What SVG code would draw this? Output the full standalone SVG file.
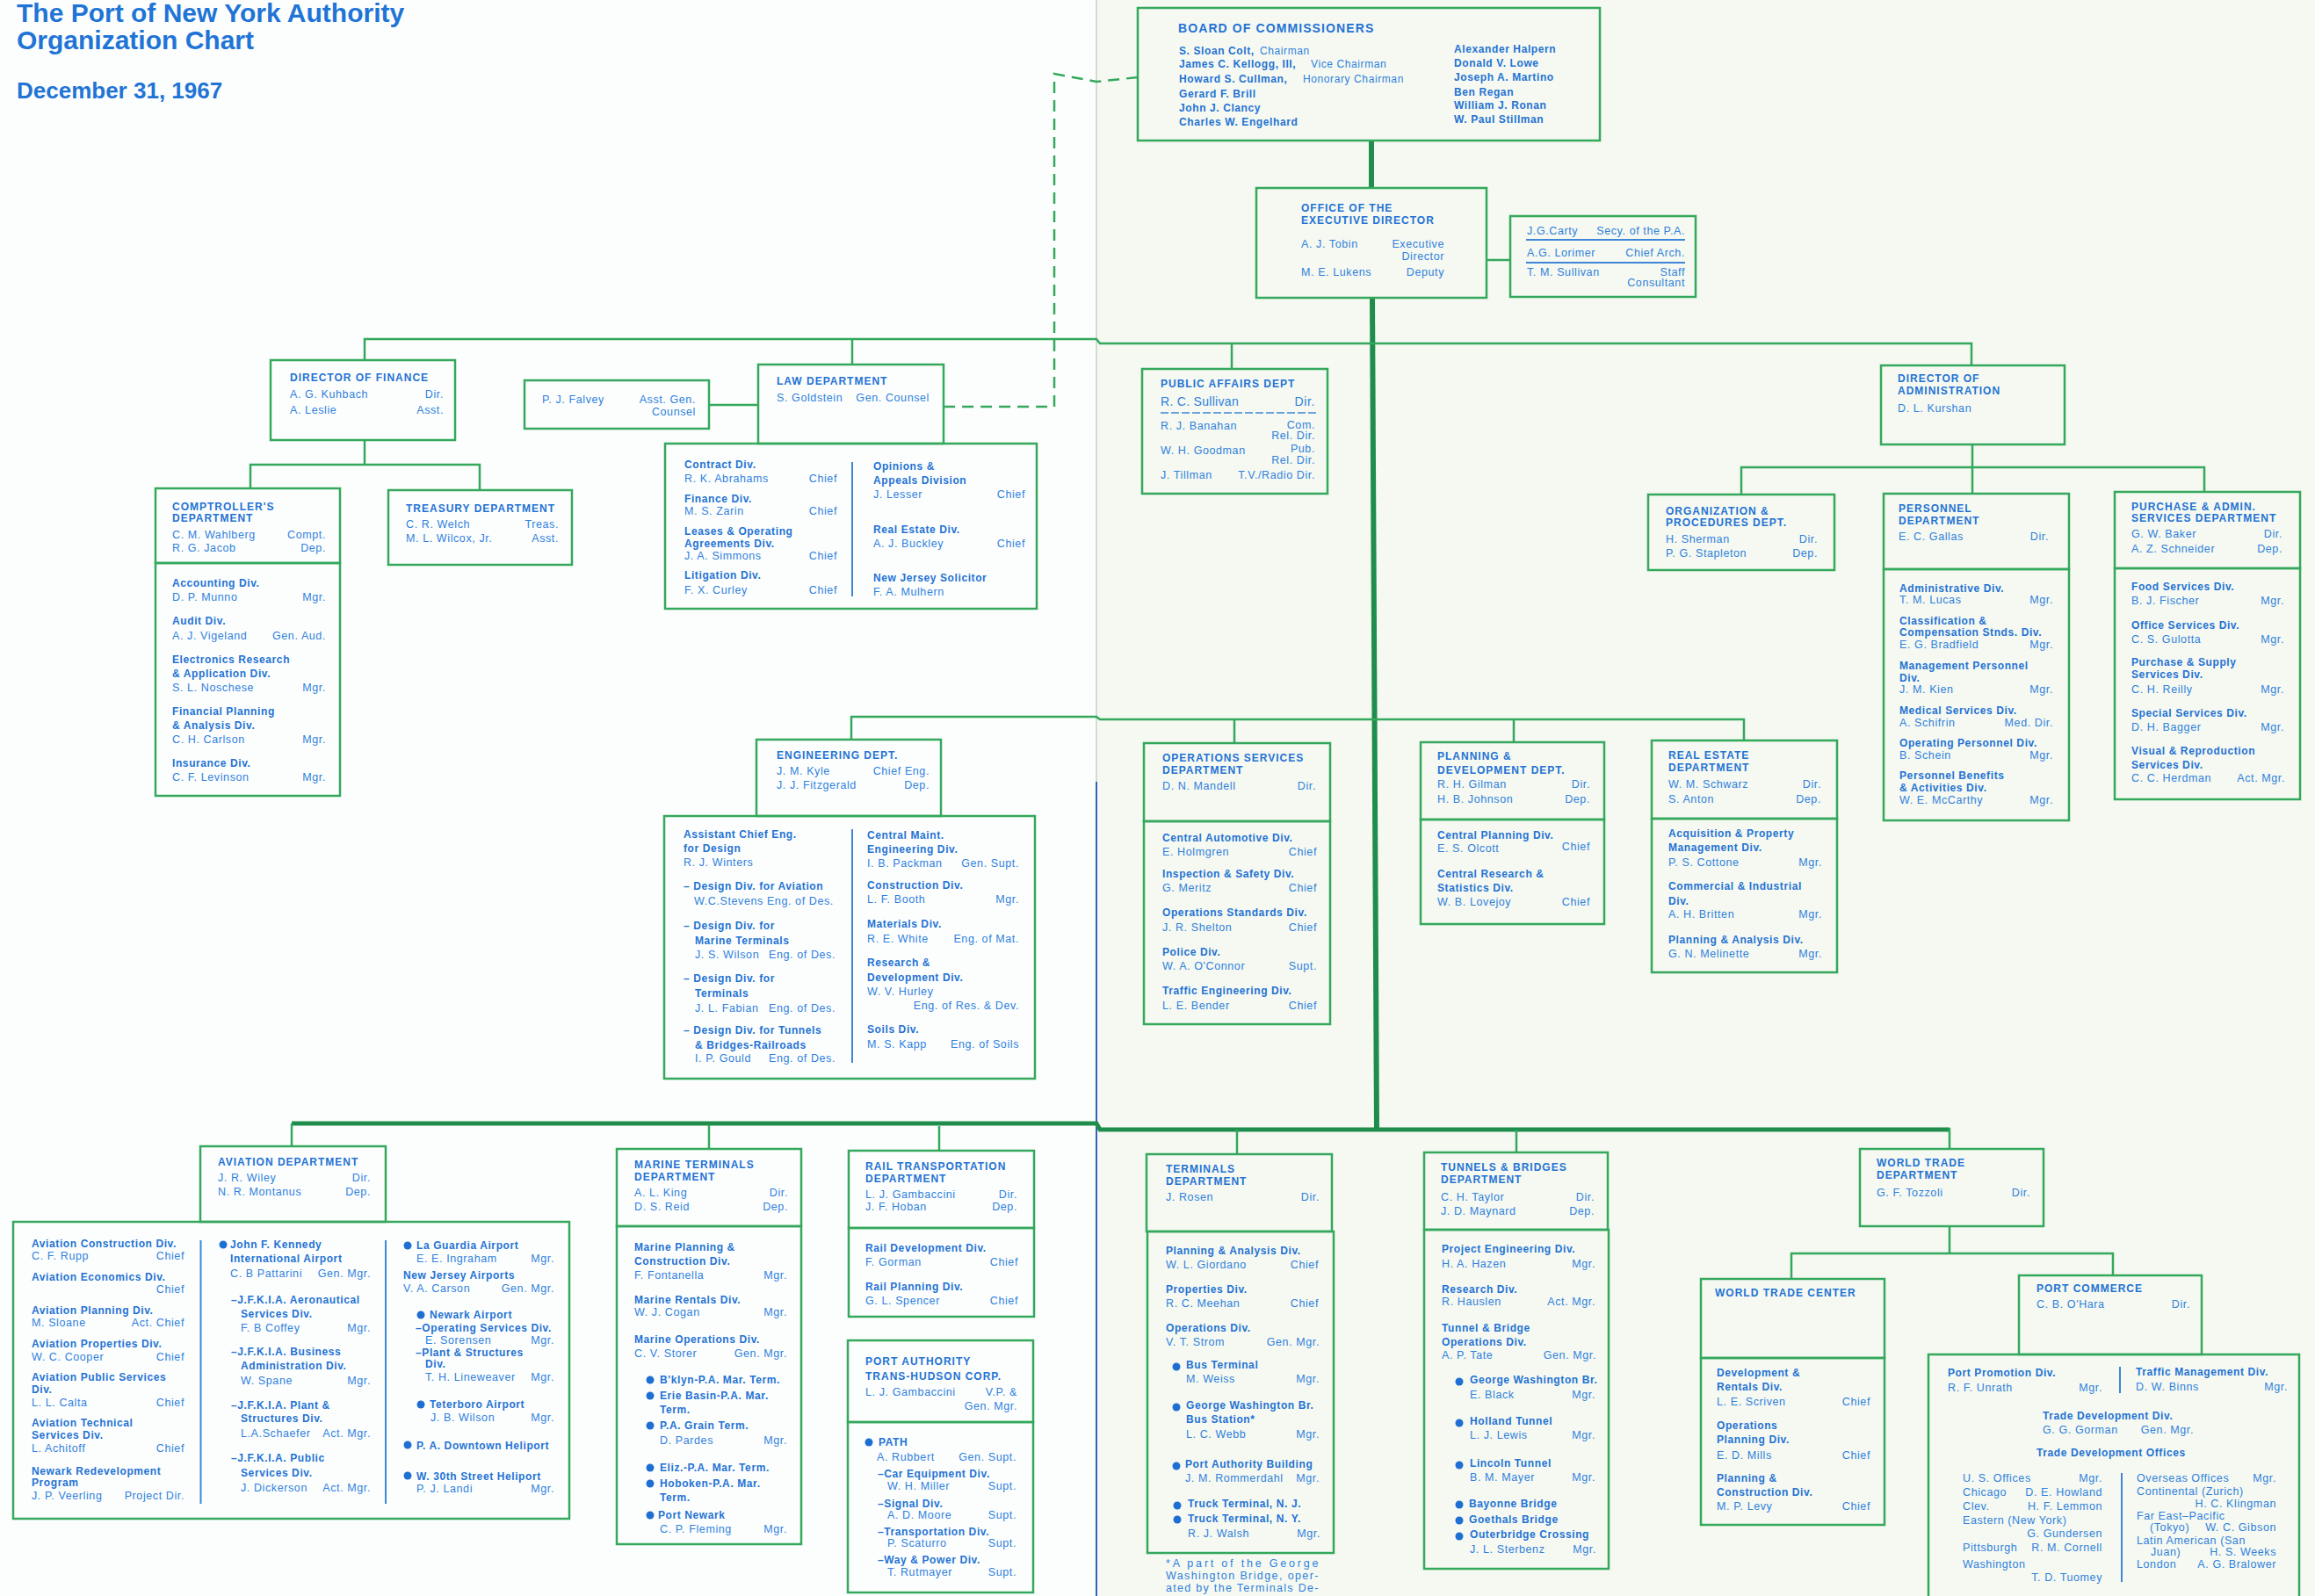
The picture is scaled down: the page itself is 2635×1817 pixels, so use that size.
<svg xmlns="http://www.w3.org/2000/svg" width="2635" height="1817" viewBox="0 0 2635 1817">
<style>
text{font-family:"Liberation Sans",Arial,sans-serif;fill:#2f80dd}
.t{font-size:30px;font-weight:bold;fill:#1f74d6}
.d{font-size:26px;font-weight:bold;fill:#1f74d6}
.hb{font-size:14px;font-weight:bold;letter-spacing:1.1px;fill:#2472d4}
.h{font-size:12px;font-weight:bold;letter-spacing:1px;fill:#2472d4}
.b{font-size:12px;font-weight:bold;letter-spacing:0.6px;fill:#2472d4}
.n{font-size:12.5px;letter-spacing:0.6px}
.nt{font-weight:normal;fill:#2f80dd}
.r{text-anchor:end}
.bx{fill:none;stroke:#34a85c;stroke-width:2.5}
.c{fill:none;stroke:#34a85c;stroke-width:2.5}
.tk{fill:none;stroke:#1f8d4b;stroke-width:6}
.tb{fill:none;stroke:#1f8d4b;stroke-width:5}
.ds{fill:none;stroke:#34a85c;stroke-width:2.5;stroke-dasharray:13 8}
.dv{stroke:#3f86d8;stroke-width:2}
.bl{fill:#1f6fd3}
</style>
<rect x="0" y="0" width="1248" height="1817" fill="#fcfefd"/>
<rect x="1248" y="0" width="1387" height="1817" fill="#f5f9f1"/>
<line x1="1248" y1="0" x2="1248" y2="890" stroke="#d6dad2" stroke-width="2"/>
<line x1="1248" y1="890" x2="1248" y2="1817" stroke="#2f64b8" stroke-width="2"/>

<g id="title">
<text class="t" x="19" y="25">The Port of New York Authority</text>
<text class="t" x="19" y="56">Organization Chart</text>
<text class="d" x="19" y="112">December 31, 1967</text>
</g>

<g id="connectors">
<path class="tk" d="M1561,160 V214"/>
<path class="tk" d="M1562,339 L1567,1286"/>
<path class="ds" d="M1295,88 L1248,93 L1200,84 V463 H1074"/>
<path class="c" d="M415,410 V386 H1248 L1252,391 H2244 V416"/>
<path class="c" d="M970,386 V415"/>
<path class="c" d="M1402,391 V420"/>
<path class="c" d="M807,461 H863"/>
<path class="c" d="M1692,296 H1719"/>
<path class="c" d="M415,501 V529"/>
<path class="c" d="M285,556 V529 H546 V558"/>
<path class="c" d="M2245,506 V532"/>
<path class="c" d="M1982,563 V532 H2509 V560"/>
<path class="c" d="M2245,532 V562"/>
<path class="c" d="M969,842 V816 H1248 L1252,819 H1985 V843"/>
<path class="c" d="M1405,819 V846"/>
<path class="c" d="M1723,819 V845"/>
<path class="tb" d="M332,1279 H1248 L1252,1286 H2219"/>
<path class="c" d="M332,1279 V1305"/>
<path class="c" d="M807,1281 V1308"/>
<path class="c" d="M1069,1282 V1310"/>
<path class="c" d="M1408,1286 V1314"/>
<path class="c" d="M1726,1286 V1312"/>
<path class="c" d="M2219,1284 V1308"/>
<path class="c" d="M2219,1396 V1427"/>
<path class="c" d="M2039,1456 V1427 H2405 V1452"/>
</g>

<g id="board">
<rect class="bx" x="1295" y="9" width="526" height="151"/>
<text class="hb" x="1341" y="37">BOARD OF COMMISSIONERS</text>
<text class="b" x="1342" y="62">S. Sloan Colt, <tspan class="nt" x="1434">Chairman</tspan></text>
<text class="b" x="1342" y="77">James C. Kellogg, III, <tspan class="nt" x="1492">Vice Chairman</tspan></text>
<text class="b" x="1342" y="94">Howard S. Cullman, <tspan class="nt" x="1483">Honorary Chairman</tspan></text>
<text class="b" x="1342" y="111">Gerard F. Brill</text>
<text class="b" x="1342" y="127">John J. Clancy</text>
<text class="b" x="1342" y="143">Charles W. Engelhard</text>
<text class="b" x="1655" y="60">Alexander Halpern</text>
<text class="b" x="1655" y="76">Donald V. Lowe</text>
<text class="b" x="1655" y="92">Joseph A. Martino</text>
<text class="b" x="1655" y="109">Ben Regan</text>
<text class="b" x="1655" y="124">William J. Ronan</text>
<text class="b" x="1655" y="140">W. Paul Stillman</text>
</g>

<g id="exec">
<rect class="bx" x="1430" y="214" width="262" height="125"/>
<text class="h" x="1481" y="241">OFFICE OF THE</text>
<text class="h" x="1481" y="255">EXECUTIVE DIRECTOR</text>
<text class="n" x="1481" y="282">A. J. Tobin</text>
<text class="n r" x="1644" y="282">Executive</text>
<text class="n r" x="1644" y="296">Director</text>
<text class="n" x="1481" y="314">M. E. Lukens</text>
<text class="n r" x="1644" y="314">Deputy</text>
</g>

<g id="staff">
<rect class="bx" x="1719" y="246" width="211" height="92"/>
<text class="n" x="1738" y="267">J.G.Carty</text>
<text class="n r" x="1918" y="267">Secy. of the P.A.</text>
<line class="dv" x1="1737" y1="273" x2="1918" y2="273"/>
<text class="n" x="1738" y="292">A.G. Lorimer</text>
<text class="n r" x="1918" y="292">Chief Arch.</text>
<line class="dv" x1="1737" y1="299" x2="1918" y2="299"/>
<text class="n" x="1738" y="314">T. M. Sullivan</text>
<text class="n r" x="1918" y="314">Staff</text>
<text class="n r" x="1918" y="326">Consultant</text>
</g>

<g id="finance">
<rect class="bx" x="308" y="410" width="210" height="91"/>
<text class="h" x="330" y="434">DIRECTOR OF FINANCE</text>
<text class="n" x="330" y="453">A. G. Kuhbach</text>
<text class="n r" x="505" y="453">Dir.</text>
<text class="n" x="330" y="471">A. Leslie</text>
<text class="n r" x="505" y="471">Asst.</text>
</g>

<g id="falvey">
<rect class="bx" x="597" y="433" width="210" height="55"/>
<text class="n" x="617" y="459">P. J. Falvey</text>
<text class="n r" x="792" y="459">Asst. Gen.</text>
<text class="n r" x="792" y="473">Counsel</text>
</g>

<g id="law">
<rect class="bx" x="863" y="415" width="211" height="90"/>
<rect class="bx" x="757" y="505" width="423" height="188"/>
<line class="dv" x1="970" y1="526" x2="970" y2="679"/>
<text class="h" x="884" y="438">LAW DEPARTMENT</text>
<text class="n" x="884" y="457">S. Goldstein</text>
<text class="n r" x="1058" y="457">Gen. Counsel</text>
<text class="b" x="779" y="533">Contract Div.</text>
<text class="n" x="779" y="549">R. K. Abrahams</text>
<text class="n r" x="953" y="549">Chief</text>
<text class="b" x="779" y="572">Finance Div.</text>
<text class="n" x="779" y="586">M. S. Zarin</text>
<text class="n r" x="953" y="586">Chief</text>
<text class="b" x="779" y="609">Leases &amp; Operating</text>
<text class="b" x="779" y="623">Agreements Div.</text>
<text class="n" x="779" y="637">J. A. Simmons</text>
<text class="n r" x="953" y="637">Chief</text>
<text class="b" x="779" y="659">Litigation Div.</text>
<text class="n" x="779" y="676">F. X. Curley</text>
<text class="n r" x="953" y="676">Chief</text>
<text class="b" x="994" y="535">Opinions &amp;</text>
<text class="b" x="994" y="551">Appeals Division</text>
<text class="n" x="994" y="567">J. Lesser</text>
<text class="n r" x="1167" y="567">Chief</text>
<text class="b" x="994" y="607">Real Estate Div.</text>
<text class="n" x="994" y="623">A. J. Buckley</text>
<text class="n r" x="1167" y="623">Chief</text>
<text class="b" x="994" y="662">New Jersey Solicitor</text>
<text class="n" x="994" y="678">F. A. Mulhern</text>
</g>

<g id="public-affairs">
<rect class="bx" x="1300" y="420" width="211" height="142"/>
<text class="h" x="1321" y="441">PUBLIC AFFAIRS DEPT</text>
<text class="n" x="1321" y="462" style="font-size:14px;letter-spacing:0.3px">R. C. Sullivan</text>
<text class="n r" x="1497" y="462" style="font-size:14px">Dir.</text>
<line x1="1321" y1="470" x2="1499" y2="470" stroke="#3f86d8" stroke-width="1.5" stroke-dasharray="9 3"/>
<text class="n" x="1321" y="489">R. J. Banahan</text>
<text class="n r" x="1497" y="488">Com.</text>
<text class="n r" x="1497" y="500">Rel. Dir.</text>
<text class="n" x="1321" y="517">W. H. Goodman</text>
<text class="n r" x="1497" y="515">Pub.</text>
<text class="n r" x="1497" y="528">Rel. Dir.</text>
<text class="n" x="1321" y="545">J. Tillman</text>
<text class="n r" x="1497" y="545">T.V./Radio Dir.</text>
</g>

<g id="administration">
<rect class="bx" x="2141" y="416" width="209" height="90"/>
<text class="h" x="2160" y="435">DIRECTOR OF</text>
<text class="h" x="2160" y="449">ADMINISTRATION</text>
<text class="n" x="2160" y="469">D. L. Kurshan</text>
</g>

<g id="comptroller">
<rect class="bx" x="177" y="556" width="210" height="85"/>
<rect class="bx" x="177" y="641" width="210" height="265"/>
<text class="h" x="196" y="581">COMPTROLLER'S</text>
<text class="h" x="196" y="594">DEPARTMENT</text>
<text class="n" x="196" y="613">C. M. Wahlberg</text>
<text class="n r" x="371" y="613">Compt.</text>
<text class="n" x="196" y="628">R. G. Jacob</text>
<text class="n r" x="371" y="628">Dep.</text>
<text class="b" x="196" y="668">Accounting Div.</text>
<text class="n" x="196" y="684">D. P. Munno</text>
<text class="n r" x="371" y="684">Mgr.</text>
<text class="b" x="196" y="711">Audit Div.</text>
<text class="n" x="196" y="728">A. J. Vigeland</text>
<text class="n r" x="371" y="728">Gen. Aud.</text>
<text class="b" x="196" y="755">Electronics Research</text>
<text class="b" x="196" y="771">&amp; Application Div.</text>
<text class="n" x="196" y="787">S. L. Noschese</text>
<text class="n r" x="371" y="787">Mgr.</text>
<text class="b" x="196" y="814">Financial Planning</text>
<text class="b" x="196" y="830">&amp; Analysis Div.</text>
<text class="n" x="196" y="846">C. H. Carlson</text>
<text class="n r" x="371" y="846">Mgr.</text>
<text class="b" x="196" y="873">Insurance Div.</text>
<text class="n" x="196" y="889">C. F. Levinson</text>
<text class="n r" x="371" y="889">Mgr.</text>
</g>

<g id="treasury">
<rect class="bx" x="442" y="558" width="209" height="85"/>
<text class="h" x="462" y="583">TREASURY DEPARTMENT</text>
<text class="n" x="462" y="601">C. R. Welch</text>
<text class="n r" x="636" y="601">Treas.</text>
<text class="n" x="462" y="617">M. L. Wilcox, Jr.</text>
<text class="n r" x="636" y="617">Asst.</text>
</g>

<g id="org-procedures">
<rect class="bx" x="1876" y="563" width="212" height="86"/>
<text class="h" x="1896" y="586">ORGANIZATION &amp;</text>
<text class="h" x="1896" y="599">PROCEDURES DEPT.</text>
<text class="n" x="1896" y="618">H. Sherman</text>
<text class="n r" x="2069" y="618">Dir.</text>
<text class="n" x="1896" y="634">P. G. Stapleton</text>
<text class="n r" x="2069" y="634">Dep.</text>
</g>

<g id="personnel">
<rect class="bx" x="2144" y="562" width="211" height="86"/>
<rect class="bx" x="2144" y="648" width="211" height="286"/>
<text class="h" x="2161" y="583">PERSONNEL</text>
<text class="h" x="2161" y="597">DEPARTMENT</text>
<text class="n" x="2161" y="615">E. C. Gallas</text>
<text class="n r" x="2332" y="615">Dir.</text>
<text class="b" x="2162" y="674">Administrative Div.</text>
<text class="n" x="2162" y="687">T. M. Lucas</text>
<text class="n r" x="2337" y="687">Mgr.</text>
<text class="b" x="2162" y="711">Classification &amp;</text>
<text class="b" x="2162" y="724">Compensation Stnds. Div.</text>
<text class="n" x="2162" y="738">E. G. Bradfield</text>
<text class="n r" x="2337" y="738">Mgr.</text>
<text class="b" x="2162" y="762">Management Personnel</text>
<text class="b" x="2162" y="776">Div.</text>
<text class="n" x="2162" y="789">J. M. Kien</text>
<text class="n r" x="2337" y="789">Mgr.</text>
<text class="b" x="2162" y="813">Medical Services Div.</text>
<text class="n" x="2162" y="827">A. Schifrin</text>
<text class="n r" x="2337" y="827">Med. Dir.</text>
<text class="b" x="2162" y="850">Operating Personnel Div.</text>
<text class="n" x="2162" y="864">B. Schein</text>
<text class="n r" x="2337" y="864">Mgr.</text>
<text class="b" x="2162" y="887">Personnel Benefits</text>
<text class="b" x="2162" y="901">&amp; Activities Div.</text>
<text class="n" x="2162" y="915">W. E. McCarthy</text>
<text class="n r" x="2337" y="915">Mgr.</text>
</g>

<g id="purchase">
<rect class="bx" x="2407" y="560" width="211" height="87"/>
<rect class="bx" x="2407" y="647" width="211" height="263"/>
<text class="h" x="2426" y="581">PURCHASE &amp; ADMIN.</text>
<text class="h" x="2426" y="594">SERVICES DEPARTMENT</text>
<text class="n" x="2426" y="612">G. W. Baker</text>
<text class="n r" x="2598" y="612">Dir.</text>
<text class="n" x="2426" y="629">A. Z. Schneider</text>
<text class="n r" x="2598" y="629">Dep.</text>
<text class="b" x="2426" y="672">Food Services Div.</text>
<text class="n" x="2426" y="688">B. J. Fischer</text>
<text class="n r" x="2600" y="688">Mgr.</text>
<text class="b" x="2426" y="716">Office Services Div.</text>
<text class="n" x="2426" y="732">C. S. Gulotta</text>
<text class="n r" x="2600" y="732">Mgr.</text>
<text class="b" x="2426" y="758">Purchase &amp; Supply</text>
<text class="b" x="2426" y="772">Services Div.</text>
<text class="n" x="2426" y="789">C. H. Reilly</text>
<text class="n r" x="2600" y="789">Mgr.</text>
<text class="b" x="2426" y="816">Special Services Div.</text>
<text class="n" x="2426" y="832">D. H. Bagger</text>
<text class="n r" x="2600" y="832">Mgr.</text>
<text class="b" x="2426" y="859">Visual &amp; Reproduction</text>
<text class="b" x="2426" y="875">Services Div.</text>
<text class="n" x="2426" y="890">C. C. Herdman</text>
<text class="n r" x="2601" y="890">Act. Mgr.</text>
</g>

<g id="engineering">
<rect class="bx" x="861" y="842" width="210" height="87"/>
<rect class="bx" x="756" y="929" width="422" height="299"/>
<line class="dv" x1="970" y1="944" x2="970" y2="1210"/>
<text class="h" x="884" y="864">ENGINEERING DEPT.</text>
<text class="n" x="884" y="882">J. M. Kyle</text>
<text class="n r" x="1058" y="882">Chief Eng.</text>
<text class="n" x="884" y="898">J. J. Fitzgerald</text>
<text class="n r" x="1058" y="898">Dep.</text>
<text class="b" x="778" y="954">Assistant Chief Eng.</text>
<text class="b" x="778" y="970">for Design</text>
<text class="n" x="778" y="986">R. J. Winters</text>
<text class="b" x="778" y="1013">– Design Div. for Aviation</text>
<text class="n" x="790" y="1030">W.C.Stevens Eng. of Des.</text>
<text class="b" x="778" y="1058">– Design Div. for</text>
<text class="b" x="791" y="1075">Marine Terminals</text>
<text class="n" x="791" y="1091">J. S. Wilson</text>
<text class="n r" x="951" y="1091">Eng. of Des.</text>
<text class="b" x="778" y="1118">– Design Div. for</text>
<text class="b" x="791" y="1135">Terminals</text>
<text class="n" x="791" y="1152">J. L. Fabian</text>
<text class="n r" x="951" y="1152">Eng. of Des.</text>
<text class="b" x="778" y="1177">– Design Div. for Tunnels</text>
<text class="b" x="791" y="1194">&amp; Bridges-Railroads</text>
<text class="n" x="791" y="1209">I. P. Gould</text>
<text class="n r" x="951" y="1209">Eng. of Des.</text>
<text class="b" x="987" y="955">Central Maint.</text>
<text class="b" x="987" y="971">Engineering Div.</text>
<text class="n" x="987" y="987">I. B. Packman</text>
<text class="n r" x="1160" y="987">Gen. Supt.</text>
<text class="b" x="987" y="1012">Construction Div.</text>
<text class="n" x="987" y="1028">L. F. Booth</text>
<text class="n r" x="1160" y="1028">Mgr.</text>
<text class="b" x="987" y="1056">Materials Div.</text>
<text class="n" x="987" y="1073">R. E. White</text>
<text class="n r" x="1160" y="1073">Eng. of Mat.</text>
<text class="b" x="987" y="1100">Research &amp;</text>
<text class="b" x="987" y="1117">Development Div.</text>
<text class="n" x="987" y="1133">W. V. Hurley</text>
<text class="n r" x="1160" y="1149">Eng. of Res. &amp; Dev.</text>
<text class="b" x="987" y="1176">Soils Div.</text>
<text class="n" x="987" y="1193">M. S. Kapp</text>
<text class="n r" x="1160" y="1193">Eng. of Soils</text>
</g>

<g id="operations-services">
<rect class="bx" x="1302" y="846" width="212" height="89"/>
<rect class="bx" x="1302" y="935" width="212" height="231"/>
<text class="h" x="1323" y="867">OPERATIONS SERVICES</text>
<text class="h" x="1323" y="881">DEPARTMENT</text>
<text class="n" x="1323" y="899">D. N. Mandell</text>
<text class="n r" x="1498" y="899">Dir.</text>
<text class="b" x="1323" y="958">Central Automotive Div.</text>
<text class="n" x="1323" y="974">E. Holmgren</text>
<text class="n r" x="1499" y="974">Chief</text>
<text class="b" x="1323" y="999">Inspection &amp; Safety Div.</text>
<text class="n" x="1323" y="1015">G. Meritz</text>
<text class="n r" x="1499" y="1015">Chief</text>
<text class="b" x="1323" y="1043">Operations Standards Div.</text>
<text class="n" x="1323" y="1060">J. R. Shelton</text>
<text class="n r" x="1499" y="1060">Chief</text>
<text class="b" x="1323" y="1088">Police Div.</text>
<text class="n" x="1323" y="1104">W. A. O'Connor</text>
<text class="n r" x="1499" y="1104">Supt.</text>
<text class="b" x="1323" y="1132">Traffic Engineering Div.</text>
<text class="n" x="1323" y="1149">L. E. Bender</text>
<text class="n r" x="1499" y="1149">Chief</text>
</g>

<g id="planning-development">
<rect class="bx" x="1617" y="845" width="209" height="88"/>
<rect class="bx" x="1617" y="933" width="209" height="119"/>
<text class="h" x="1636" y="865">PLANNING &amp;</text>
<text class="h" x="1636" y="881">DEVELOPMENT DEPT.</text>
<text class="n" x="1636" y="897">R. H. Gilman</text>
<text class="n r" x="1810" y="897">Dir.</text>
<text class="n" x="1636" y="914">H. B. Johnson</text>
<text class="n r" x="1810" y="914">Dep.</text>
<text class="b" x="1636" y="955">Central Planning Div.</text>
<text class="n" x="1636" y="970">E. S. Olcott</text>
<text class="n r" x="1810" y="968">Chief</text>
<text class="b" x="1636" y="999">Central Research &amp;</text>
<text class="b" x="1636" y="1015">Statistics Div.</text>
<text class="n" x="1636" y="1031">W. B. Lovejoy</text>
<text class="n r" x="1810" y="1031">Chief</text>
</g>

<g id="real-estate">
<rect class="bx" x="1880" y="843" width="211" height="89"/>
<rect class="bx" x="1880" y="932" width="211" height="175"/>
<text class="h" x="1899" y="864">REAL ESTATE</text>
<text class="h" x="1899" y="878">DEPARTMENT</text>
<text class="n" x="1899" y="897">W. M. Schwarz</text>
<text class="n r" x="2073" y="897">Dir.</text>
<text class="n" x="1899" y="914">S. Anton</text>
<text class="n r" x="2073" y="914">Dep.</text>
<text class="b" x="1899" y="953">Acquisition &amp; Property</text>
<text class="b" x="1899" y="969">Management Div.</text>
<text class="n" x="1899" y="986">P. S. Cottone</text>
<text class="n r" x="2074" y="986">Mgr.</text>
<text class="b" x="1899" y="1013">Commercial &amp; Industrial</text>
<text class="b" x="1899" y="1030">Div.</text>
<text class="n" x="1899" y="1045">A. H. Britten</text>
<text class="n r" x="2074" y="1045">Mgr.</text>
<text class="b" x="1899" y="1074">Planning &amp; Analysis Div.</text>
<text class="n" x="1899" y="1090">G. N. Melinette</text>
<text class="n r" x="2074" y="1090">Mgr.</text>
</g>

<g id="aviation">
<rect class="bx" x="228" y="1305" width="211" height="86"/>
<rect class="bx" x="15" y="1391" width="633" height="338"/>
<line class="dv" x1="228.5" y1="1412" x2="228.5" y2="1712"/>
<line class="dv" x1="439" y1="1412" x2="439" y2="1712"/>
<text class="h" x="248" y="1327">AVIATION DEPARTMENT</text>
<text class="n" x="248" y="1345">J. R. Wiley</text>
<text class="n r" x="422" y="1345">Dir.</text>
<text class="n" x="248" y="1361">N. R. Montanus</text>
<text class="n r" x="422" y="1361">Dep.</text>
<text class="b" x="36" y="1420">Aviation Construction Div.</text>
<text class="n" x="36" y="1434">C. F. Rupp</text>
<text class="n r" x="210" y="1434">Chief</text>
<text class="b" x="36" y="1458">Aviation Economics Div.</text>
<text class="n r" x="210" y="1472">Chief</text>
<text class="b" x="36" y="1496">Aviation Planning Div.</text>
<text class="n" x="36" y="1510">M. Sloane</text>
<text class="n r" x="210" y="1510">Act. Chief</text>
<text class="b" x="36" y="1534">Aviation Properties Div.</text>
<text class="n" x="36" y="1549">W. C. Cooper</text>
<text class="n r" x="210" y="1549">Chief</text>
<text class="b" x="36" y="1572">Aviation Public Services</text>
<text class="b" x="36" y="1586">Div.</text>
<text class="n" x="36" y="1601">L. L. Calta</text>
<text class="n r" x="210" y="1601">Chief</text>
<text class="b" x="36" y="1624">Aviation Technical</text>
<text class="b" x="36" y="1638">Services Div.</text>
<text class="n" x="36" y="1653">L. Achitoff</text>
<text class="n r" x="210" y="1653">Chief</text>
<text class="b" x="36" y="1679">Newark Redevelopment</text>
<text class="b" x="36" y="1692">Program</text>
<text class="n" x="36" y="1707">J. P. Veerling</text>
<text class="n r" x="210" y="1707">Project Dir.</text>
<circle class="bl" cx="254" cy="1417" r="4.5"/>
<text class="b" x="262" y="1421">John F. Kennedy</text>
<text class="b" x="262" y="1437">International Airport</text>
<text class="n" x="262" y="1454">C. B Pattarini</text>
<text class="n r" x="422" y="1454">Gen. Mgr.</text>
<text class="b" x="263" y="1484">–J.F.K.I.A. Aeronautical</text>
<text class="b" x="274" y="1500">Services Div.</text>
<text class="n" x="274" y="1516">F. B Coffey</text>
<text class="n r" x="422" y="1516">Mgr.</text>
<text class="b" x="263" y="1543">–J.F.K.I.A. Business</text>
<text class="b" x="274" y="1559">Administration Div.</text>
<text class="n" x="274" y="1576">W. Spane</text>
<text class="n r" x="422" y="1576">Mgr.</text>
<text class="b" x="263" y="1604">–J.F.K.I.A. Plant &amp;</text>
<text class="b" x="274" y="1619">Structures Div.</text>
<text class="n" x="274" y="1636">L.A.Schaefer</text>
<text class="n r" x="422" y="1636">Act. Mgr.</text>
<text class="b" x="263" y="1664">–J.F.K.I.A. Public</text>
<text class="b" x="274" y="1681">Services Div.</text>
<text class="n" x="274" y="1698">J. Dickerson</text>
<text class="n r" x="422" y="1698">Act. Mgr.</text>
<circle class="bl" cx="464" cy="1418" r="4.5"/>
<text class="b" x="474" y="1422">La Guardia Airport</text>
<text class="n" x="474" y="1437">E. E. Ingraham</text>
<text class="n r" x="631" y="1437">Mgr.</text>
<text class="b" x="459" y="1456">New Jersey Airports</text>
<text class="n" x="459" y="1471">V. A. Carson</text>
<text class="n r" x="631" y="1471">Gen. Mgr.</text>
<circle class="bl" cx="479" cy="1497" r="4.5"/>
<text class="b" x="489" y="1501">Newark Airport</text>
<text class="b" x="473" y="1516">–Operating Services Div.</text>
<text class="n" x="484" y="1530">E. Sorensen</text>
<text class="n r" x="631" y="1530">Mgr.</text>
<text class="b" x="473" y="1544">–Plant &amp; Structures</text>
<text class="b" x="484" y="1557">Div.</text>
<text class="n" x="484" y="1572">T. H. Lineweaver</text>
<text class="n r" x="631" y="1572">Mgr.</text>
<circle class="bl" cx="479" cy="1599" r="4.5"/>
<text class="b" x="489" y="1603">Teterboro Airport</text>
<text class="n" x="490" y="1618">J. B. Wilson</text>
<text class="n r" x="631" y="1618">Mgr.</text>
<circle class="bl" cx="464" cy="1645" r="4.5"/>
<text class="b" x="474" y="1650">P. A. Downtown Heliport</text>
<circle class="bl" cx="464" cy="1680" r="4.5"/>
<text class="b" x="474" y="1685">W. 30th Street Heliport</text>
<text class="n" x="474" y="1699">P. J. Landi</text>
<text class="n r" x="631" y="1699">Mgr.</text>
</g>

<g id="marine">
<rect class="bx" x="702" y="1308" width="210" height="88"/>
<rect class="bx" x="702" y="1396" width="210" height="362"/>
<text class="h" x="722" y="1330">MARINE TERMINALS</text>
<text class="h" x="722" y="1344">DEPARTMENT</text>
<text class="n" x="722" y="1362">A. L. King</text>
<text class="n r" x="897" y="1362">Dir.</text>
<text class="n" x="722" y="1378">D. S. Reid</text>
<text class="n r" x="897" y="1378">Dep.</text>
<text class="b" x="722" y="1424">Marine Planning &amp;</text>
<text class="b" x="722" y="1440">Construction Div.</text>
<text class="n" x="722" y="1456">F. Fontanella</text>
<text class="n r" x="896" y="1456">Mgr.</text>
<text class="b" x="722" y="1484">Marine Rentals Div.</text>
<text class="n" x="722" y="1498">W. J. Cogan</text>
<text class="n r" x="896" y="1498">Mgr.</text>
<text class="b" x="722" y="1529">Marine Operations Div.</text>
<text class="n" x="722" y="1545">C. V. Storer</text>
<text class="n r" x="896" y="1545">Gen. Mgr.</text>
<circle class="bl" cx="740" cy="1571" r="4.5"/>
<text class="b" x="751" y="1575">B'klyn-P.A. Mar. Term.</text>
<circle class="bl" cx="740" cy="1589" r="4.5"/>
<text class="b" x="751" y="1593">Erie Basin-P.A. Mar.</text>
<text class="b" x="751" y="1609">Term.</text>
<circle class="bl" cx="740" cy="1623" r="4.5"/>
<text class="b" x="751" y="1627">P.A. Grain Term.</text>
<text class="n" x="751" y="1644">D. Pardes</text>
<text class="n r" x="896" y="1644">Mgr.</text>
<circle class="bl" cx="740" cy="1671" r="4.5"/>
<text class="b" x="751" y="1675">Eliz.-P.A. Mar. Term.</text>
<circle class="bl" cx="740" cy="1689" r="4.5"/>
<text class="b" x="751" y="1693">Hoboken-P.A. Mar.</text>
<text class="b" x="751" y="1709">Term.</text>
<circle class="bl" cx="740" cy="1725" r="4.5"/>
<text class="b" x="749" y="1729">Port Newark</text>
<text class="n" x="751" y="1745">C. P. Fleming</text>
<text class="n r" x="896" y="1745">Mgr.</text>
</g>

<g id="rail">
<rect class="bx" x="966" y="1310" width="211" height="88"/>
<rect class="bx" x="966" y="1398" width="211" height="101"/>
<text class="h" x="985" y="1332">RAIL TRANSPORTATION</text>
<text class="h" x="985" y="1346">DEPARTMENT</text>
<text class="n" x="985" y="1364">L. J. Gambaccini</text>
<text class="n r" x="1158" y="1364">Dir.</text>
<text class="n" x="985" y="1378">J. F. Hoban</text>
<text class="n r" x="1158" y="1378">Dep.</text>
<text class="b" x="985" y="1425">Rail Development Div.</text>
<text class="n" x="985" y="1441">F. Gorman</text>
<text class="n r" x="1159" y="1441">Chief</text>
<text class="b" x="985" y="1469">Rail Planning Div.</text>
<text class="n" x="985" y="1485">G. L. Spencer</text>
<text class="n r" x="1159" y="1485">Chief</text>
</g>

<g id="path-corp">
<rect class="bx" x="965" y="1526" width="211" height="93"/>
<rect class="bx" x="965" y="1619" width="211" height="194"/>
<text class="h" x="985" y="1554">PORT AUTHORITY</text>
<text class="h" x="985" y="1571">TRANS-HUDSON CORP.</text>
<text class="n" x="985" y="1589">L. J. Gambaccini</text>
<text class="n r" x="1158" y="1589">V.P. &amp;</text>
<text class="n r" x="1158" y="1605">Gen. Mgr.</text>
<circle class="bl" cx="989" cy="1642" r="4.5"/>
<text class="b" x="1000" y="1646">PATH</text>
<text class="n" x="998" y="1663">A. Rubbert</text>
<text class="n r" x="1157" y="1663">Gen. Supt.</text>
<text class="b" x="999" y="1682">–Car Equipment Div.</text>
<text class="n" x="1010" y="1696">W. H. Miller</text>
<text class="n r" x="1157" y="1696">Supt.</text>
<text class="b" x="999" y="1716">–Signal Div.</text>
<text class="n" x="1010" y="1729">A. D. Moore</text>
<text class="n r" x="1157" y="1729">Supt.</text>
<text class="b" x="999" y="1748">–Transportation Div.</text>
<text class="n" x="1010" y="1761">P. Scaturro</text>
<text class="n r" x="1157" y="1761">Supt.</text>
<text class="b" x="999" y="1780">–Way &amp; Power Div.</text>
<text class="n" x="1010" y="1794">T. Rutmayer</text>
<text class="n r" x="1157" y="1794">Supt.</text>
</g>

<g id="terminals">
<rect class="bx" x="1305" y="1314" width="211" height="88"/>
<rect class="bx" x="1306" y="1402" width="212" height="366"/>
<text class="h" x="1327" y="1335">TERMINALS</text>
<text class="h" x="1327" y="1349">DEPARTMENT</text>
<text class="n" x="1327" y="1367">J. Rosen</text>
<text class="n r" x="1502" y="1367">Dir.</text>
<text class="b" x="1327" y="1428">Planning &amp; Analysis Div.</text>
<text class="n" x="1327" y="1444">W. L. Giordano</text>
<text class="n r" x="1501" y="1444">Chief</text>
<text class="b" x="1327" y="1472">Properties Div.</text>
<text class="n" x="1327" y="1488">R. C. Meehan</text>
<text class="n r" x="1501" y="1488">Chief</text>
<text class="b" x="1327" y="1516">Operations Div.</text>
<text class="n" x="1327" y="1532">V. T. Strom</text>
<text class="n r" x="1502" y="1532">Gen. Mgr.</text>
<circle class="bl" cx="1339" cy="1556" r="4.5"/>
<text class="b" x="1350" y="1558">Bus Terminal</text>
<text class="n" x="1350" y="1574">M. Weiss</text>
<text class="n r" x="1502" y="1574">Mgr.</text>
<circle class="bl" cx="1339" cy="1602" r="4.5"/>
<text class="b" x="1350" y="1604">George Washington Br.</text>
<text class="b" x="1350" y="1620">Bus Station*</text>
<text class="n" x="1350" y="1637">L. C. Webb</text>
<text class="n r" x="1502" y="1637">Mgr.</text>
<circle class="bl" cx="1339" cy="1669" r="4.5"/>
<text class="b" x="1349" y="1671">Port Authority Building</text>
<text class="n" x="1349" y="1687">J. M. Rommerdahl</text>
<text class="n r" x="1502" y="1687">Mgr.</text>
<circle class="bl" cx="1340" cy="1714" r="4.5"/>
<text class="b" x="1352" y="1716">Truck Terminal, N. J.</text>
<circle class="bl" cx="1340" cy="1730" r="4.5"/>
<text class="b" x="1352" y="1733">Truck Terminal, N. Y.</text>
<text class="n" x="1352" y="1750">R. J. Walsh</text>
<text class="n r" x="1503" y="1750">Mgr.</text>
<text class="n" x="1327" y="1784" textLength="174" lengthAdjust="spacing">*A part of the George</text>
<text class="n" x="1327" y="1798" textLength="174" lengthAdjust="spacing">Washington Bridge, oper-</text>
<text class="n" x="1327" y="1812" textLength="174" lengthAdjust="spacing">ated by the Terminals De-</text>
</g>

<g id="tunnels-bridges">
<rect class="bx" x="1621" y="1312" width="209" height="88"/>
<rect class="bx" x="1621" y="1400" width="210" height="386"/>
<text class="h" x="1640" y="1333">TUNNELS &amp; BRIDGES</text>
<text class="h" x="1640" y="1347">DEPARTMENT</text>
<text class="n" x="1640" y="1367">C. H. Taylor</text>
<text class="n r" x="1815" y="1367">Dir.</text>
<text class="n" x="1640" y="1383">J. D. Maynard</text>
<text class="n r" x="1815" y="1383">Dep.</text>
<text class="b" x="1641" y="1426">Project Engineering Div.</text>
<text class="n" x="1641" y="1443">H. A. Hazen</text>
<text class="n r" x="1816" y="1443">Mgr.</text>
<text class="b" x="1641" y="1472">Research Div.</text>
<text class="n" x="1641" y="1486">R. Hauslen</text>
<text class="n r" x="1816" y="1486">Act. Mgr.</text>
<text class="b" x="1641" y="1516">Tunnel &amp; Bridge</text>
<text class="b" x="1641" y="1532">Operations Div.</text>
<text class="n" x="1641" y="1547">A. P. Tate</text>
<text class="n r" x="1817" y="1547">Gen. Mgr.</text>
<circle class="bl" cx="1661" cy="1573" r="4.5"/>
<text class="b" x="1673" y="1575">George Washington Br.</text>
<text class="n" x="1673" y="1592">E. Black</text>
<text class="n r" x="1816" y="1592">Mgr.</text>
<circle class="bl" cx="1661" cy="1620" r="4.5"/>
<text class="b" x="1673" y="1622">Holland Tunnel</text>
<text class="n" x="1673" y="1638">L. J. Lewis</text>
<text class="n r" x="1816" y="1638">Mgr.</text>
<circle class="bl" cx="1661" cy="1668" r="4.5"/>
<text class="b" x="1673" y="1670">Lincoln Tunnel</text>
<text class="n" x="1673" y="1686">B. M. Mayer</text>
<text class="n r" x="1816" y="1686">Mgr.</text>
<circle class="bl" cx="1661" cy="1713" r="4.5"/>
<text class="b" x="1672" y="1716">Bayonne Bridge</text>
<circle class="bl" cx="1661" cy="1731" r="4.5"/>
<text class="b" x="1672" y="1734">Goethals Bridge</text>
<circle class="bl" cx="1661" cy="1749" r="4.5"/>
<text class="b" x="1673" y="1751">Outerbridge Crossing</text>
<text class="n" x="1673" y="1768">J. L. Sterbenz</text>
<text class="n r" x="1817" y="1768">Mgr.</text>
</g>

<g id="world-trade">
<rect class="bx" x="2117" y="1308" width="209" height="88"/>
<text class="h" x="2136" y="1328">WORLD TRADE</text>
<text class="h" x="2136" y="1342">DEPARTMENT</text>
<text class="n" x="2136" y="1362">G. F. Tozzoli</text>
<text class="n r" x="2311" y="1362">Dir.</text>
</g>

<g id="world-trade-center">
<rect class="bx" x="1936" y="1456" width="209" height="90"/>
<rect class="bx" x="1936" y="1546" width="209" height="190"/>
<text class="h" x="1952" y="1476">WORLD TRADE CENTER</text>
<text class="b" x="1954" y="1567">Development &amp;</text>
<text class="b" x="1954" y="1583">Rentals Div.</text>
<text class="n" x="1954" y="1600">L. E. Scriven</text>
<text class="n r" x="2129" y="1600">Chief</text>
<text class="b" x="1954" y="1627">Operations</text>
<text class="b" x="1954" y="1643">Planning Div.</text>
<text class="n" x="1954" y="1661">E. D. Mills</text>
<text class="n r" x="2129" y="1661">Chief</text>
<text class="b" x="1954" y="1687">Planning &amp;</text>
<text class="b" x="1954" y="1703">Construction Div.</text>
<text class="n" x="1954" y="1719">M. P. Levy</text>
<text class="n r" x="2129" y="1719">Chief</text>
</g>

<g id="port-commerce">
<rect class="bx" x="2298" y="1452" width="208" height="90"/>
<rect class="bx" x="2195" y="1542" width="422" height="290"/>
<text class="h" x="2318" y="1471">PORT COMMERCE</text>
<text class="n" x="2318" y="1489">C. B. O'Hara</text>
<text class="n r" x="2493" y="1489">Dir.</text>
<line class="dv" x1="2413" y1="1556" x2="2413" y2="1586"/>
<text class="b" x="2217" y="1567">Port Promotion Div.</text>
<text class="n" x="2217" y="1584">R. F. Unrath</text>
<text class="n r" x="2393" y="1584">Mgr.</text>
<text class="b" x="2431" y="1566">Traffic Management Div.</text>
<text class="n" x="2431" y="1583">D. W. Binns</text>
<text class="n r" x="2604" y="1583">Mgr.</text>
<text class="b" x="2325" y="1616">Trade Development Div.</text>
<text class="n" x="2325" y="1632">G. G. Gorman</text>
<text class="n r" x="2497" y="1632">Gen. Mgr.</text>
<text class="b" x="2318" y="1658">Trade Development Offices</text>
<line class="dv" x1="2415" y1="1677" x2="2415" y2="1801"/>
<text class="n" x="2234" y="1687">U. S. Offices</text>
<text class="n r" x="2393" y="1687">Mgr.</text>
<text class="n" x="2234" y="1703">Chicago</text>
<text class="n r" x="2393" y="1703">D. E. Howland</text>
<text class="n" x="2234" y="1719">Clev.</text>
<text class="n r" x="2393" y="1719">H. F. Lemmon</text>
<text class="n" x="2234" y="1735">Eastern (New York)</text>
<text class="n r" x="2393" y="1750">G. Gundersen</text>
<text class="n" x="2234" y="1766">Pittsburgh</text>
<text class="n r" x="2393" y="1766">R. M. Cornell</text>
<text class="n" x="2234" y="1785">Washington</text>
<text class="n r" x="2393" y="1800">T. D. Tuomey</text>
<text class="n" x="2432" y="1687">Overseas Offices</text>
<text class="n r" x="2591" y="1687">Mgr.</text>
<text class="n" x="2432" y="1702">Continental (Zurich)</text>
<text class="n r" x="2591" y="1716">H. C. Klingman</text>
<text class="n" x="2432" y="1730">Far East–Pacific</text>
<text class="n" x="2447" y="1743">(Tokyo)</text>
<text class="n r" x="2591" y="1743">W. C. Gibson</text>
<text class="n" x="2432" y="1758">Latin American (San</text>
<text class="n" x="2448" y="1771">Juan)</text>
<text class="n r" x="2591" y="1771">H. S. Weeks</text>
<text class="n" x="2432" y="1785">London</text>
<text class="n r" x="2591" y="1785">A. G. Bralower</text>
</g>
</svg>
